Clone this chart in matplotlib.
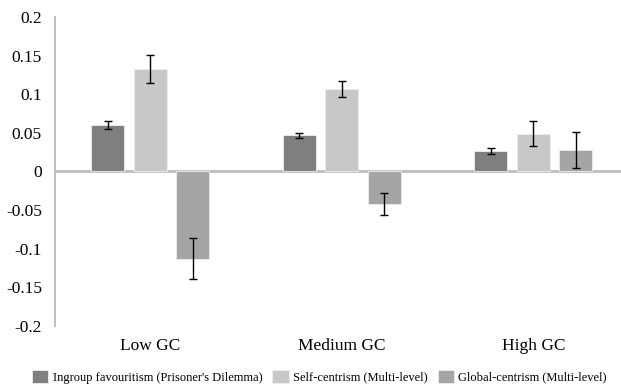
import matplotlib
matplotlib.use("Agg")
import matplotlib.pyplot as plt
import numpy as np

categories = ["Low GC", "Medium GC", "High GC"]
series_names = ["Ingroup favouritism (Prisoner's Dilemma)",
                "Self-centrism (Multi-level)",
                "Global-centrism (Multi-level)"]
ingroup = [0.060, 0.047, 0.026]
ingroup_err = [0.0048, 0.0032, 0.0039]
selfc = [0.133, 0.1065, 0.049]
selfc_err = [0.0184, 0.0104, 0.016]
globalc = [-0.113, -0.0424, 0.0273]
globalc_err = [0.026, 0.0147, 0.0231]
yticks = [0.2, 0.15, 0.1, 0.05, 0, -0.05, -0.1, -0.15, -0.2]
ytick_labels = ["0.2", "0.15", "0.1", "0.05", "0", "-0.05", "-0.1", "-0.15", "-0.2"]

colors = ["#7f7f7f", "#c8c8c8", "#a5a5a5"]

plt.rcParams['font.family'] = 'serif'
plt.rcParams['font.serif'] = ['Liberation Serif', 'DejaVu Serif']

fig = plt.figure(figsize=(6.21, 3.86), dpi=100)
ax = fig.add_axes([54.5/621, 1-325.7/386, (629-54.5)/621, (325.7-17)/386])

x = np.arange(len(categories))
width = 0.172
step = 0.221
data = [(ingroup, ingroup_err), (selfc, selfc_err), (globalc, globalc_err)]
handles = []
for i, (vals, errs) in enumerate(data):
    b = ax.bar(x + (i-1)*step, vals, width, color=colors[i], edgecolor="#eeeeee",
               linewidth=0.6, label=series_names[i], zorder=2)
    ax.errorbar(x + (i-1)*step, vals, yerr=errs, fmt='none', ecolor='black',
                elinewidth=1, capsize=3, capthick=1, zorder=3)
    handles.append(b)

ax.axhline(0, color="#bfbfbf", linewidth=2, zorder=1)
ax.set_xlim(-0.5, 2.5)
ax.set_ylim(-0.2, 0.2)
ax.set_yticks(yticks)
ax.set_yticklabels(ytick_labels)
ax.set_xticks(x)
ax.set_xticklabels(categories)
ax.tick_params(axis='both', length=0, labelsize=12.5)
ax.tick_params(axis='y', pad=9)
ax.tick_params(axis='x', pad=9)
for s in ['top', 'right', 'bottom']:
    ax.spines[s].set_visible(False)
ax.spines['left'].set_color("#bfbfbf")
ax.spines['left'].set_linewidth(1.5)

fig.legend(handles=handles, labels=series_names, loc='center left',
           bbox_to_anchor=(32/621, 1-376.7/386), ncol=3, frameon=False,
           fontsize=9.0, handlelength=1.3, handleheight=1.3, handletextpad=0.35,
           columnspacing=0.8, borderpad=0, borderaxespad=0)

fig.savefig("out.png", dpi=100)
